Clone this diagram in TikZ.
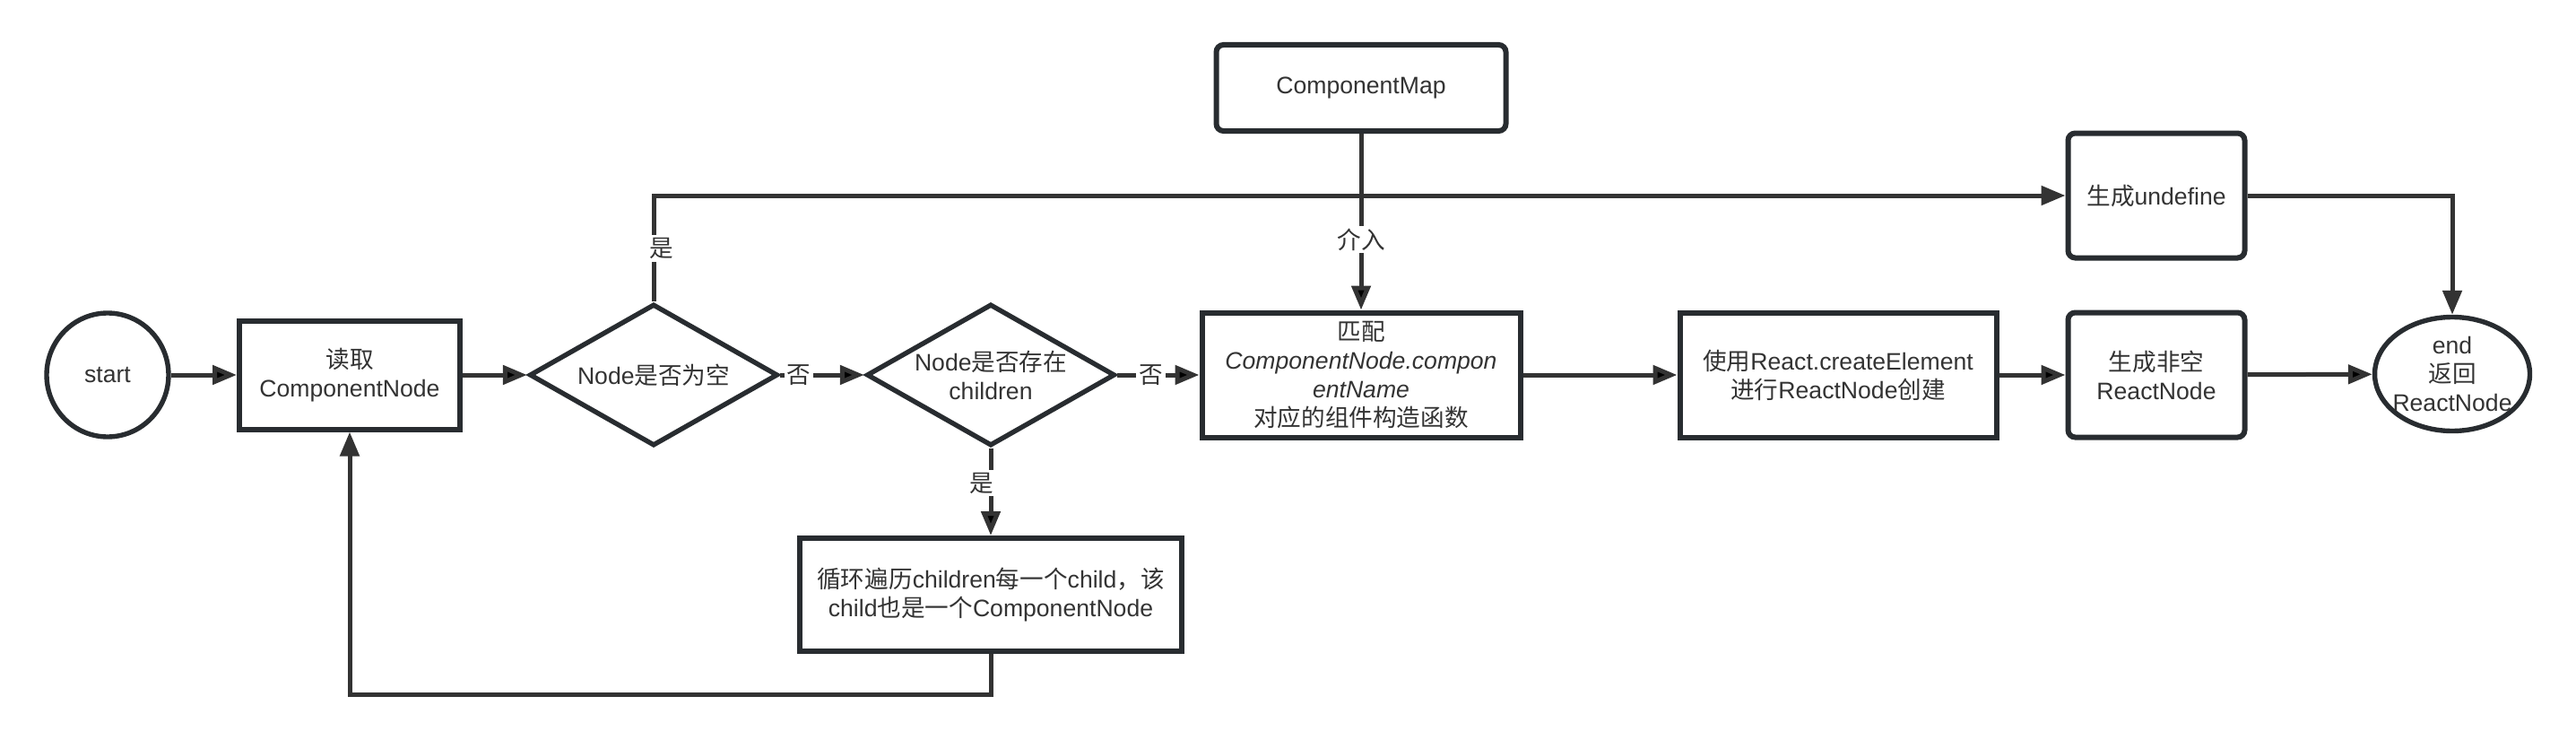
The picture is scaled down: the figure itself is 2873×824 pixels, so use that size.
\documentclass[tikz,border=0pt]{standalone}
\usepackage{fontspec}
\setmainfont{Liberation Sans}
\newfontfamily\cjk{Noto Sans CJK SC}
\usetikzlibrary{shapes.geometric}
\usetikzlibrary{arrows.meta}
\definecolor{line_gray}{RGB}{51, 51, 51}
\definecolor{border_gray}{RGB}{40, 44, 48}
\definecolor{text_gray}{RGB}{51, 51, 51}

\tikzset{
    box/.style={shape=rectangle, draw=border_gray, line width=3pt, inner sep=2pt, align=center, text=text_gray, font=\fontsize{13.3}{16}\selectfont},
    roundbox/.style={box, rounded corners=4pt},
    decision/.style={box, shape=diamond, aspect=1.75, inner sep=0pt, line width=2.7pt},
    terminal/.style={box, shape=ellipse, inner sep=0pt, line width=2.7pt},
    flow/.style={draw=line_gray, line width=2.5pt, -{Triangle[length=13.5pt, width=10.5pt]}},
    flowlabel/.style={fill=white, inner sep=1.5pt, text=text_gray, font=\cjk\fontsize{13.3}{16}\selectfont}
}

\begin{document}
\begin{tikzpicture}[x=0.5pt, y=-0.5pt]
        \useasboundingbox (0,0) rectangle (2873,824);

        \node[terminal, minimum width=68pt, minimum height=69pt] (start) at (120,418) {start};
        \node[box, minimum width=123pt, minimum height=60.5pt] (read) at (390,418) {{\cjk 读取}\\ComponentNode};
        \node[decision, minimum width=138.5pt, minimum height=79pt] (isnull) at (729,418) {Node{\cjk 是否为空}};
        \node[decision, minimum width=138.5pt, minimum height=79pt] (haschild) at (1105,418) {Node{\cjk 是否存在}\\children};
        \node[box, minimum width=177.5pt, minimum height=69.5pt] (match) at (1518,418) {{\cjk 匹配}\\{\itshape ComponentNode.compon}\\{\itshape entName}\\{\cjk 对应的组件构造函数}};
        \node[roundbox, minimum width=161.5pt, minimum height=48pt] (compmap) at (1518,98) {ComponentMap};
        \node[box, minimum width=176.5pt, minimum height=69.5pt] (create) at (2050,418) {{\cjk 使用}React.createElement\\{\cjk 进行}ReactNode{\cjk 创建}};
        \node[roundbox, minimum width=98.5pt, minimum height=69.5pt] (nonnull) at (2405,418) {{\cjk 生成非空}\\ReactNode};
        \node[roundbox, minimum width=98.5pt, minimum height=69.5pt] (undef) at (2405,218) {{\cjk 生成}undefine};
        \node[terminal, inner xsep=-4pt, minimum width=86.5pt, minimum height=63.5pt] (endnode) at (2735,417) {end\\{\cjk 返回}\\ReactNode};
        \node[box, minimum width=213pt, minimum height=63pt] (loop) at (1105,663) {{\cjk 循环遍历}children{\cjk 每一个}child{\cjk ，该}\\child{\cjk 也是一个}ComponentNode};
        \coordinate (back) at (1105,774);

    % main row
        \draw [flow](start) edge (read);
        \draw [flow](read) edge (isnull);
        \draw [flow](isnull) edge node[flowlabel, pos=0.22] {否} (haschild);
        \draw [flow](haschild) edge node[flowlabel, pos=0.41] {否} (match);
        \draw [flow](match) edge (create);
        \draw [flow](create) edge (nonnull);
        \draw [flow](nonnull) edge (endnode);

    % empty node and component map
        \draw [flow](isnull.north) |- node[flowlabel, pos=0.25, xshift=4.5pt] {是} (undef.west);
        \draw [flow](undef.east) -| (endnode.north);
        \draw [flow](compmap) edge node[flowlabel, pos=0.6] {介入} (match);

    % children loop
        \draw [flow](haschild) edge node[flowlabel, pos=0.4, xshift=-5pt] {是} (loop);
        \draw [flow](loop.south) -- (back) -| (read.south);

    \end{tikzpicture}
\end{document}
